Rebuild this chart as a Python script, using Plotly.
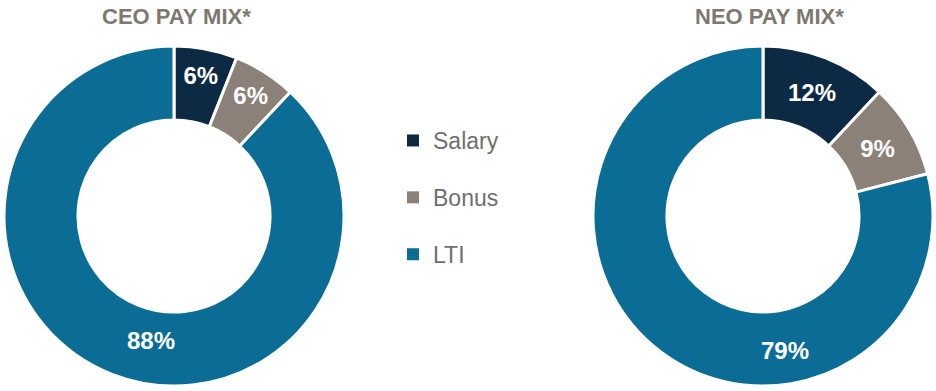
import plotly.graph_objects as go

categories = ["Salary", "Bonus", "LTI"]
ceo_values = [6, 6, 88]
neo_values = [12, 9, 79]
colors = ["#0c2a44", "#8b8178", "#0b6d96"]
titles = ["CEO PAY MIX*", "NEO PAY MIX*"]

FONT = "Liberation Sans Narrow, Arial Narrow, Liberation Sans, Arial, sans-serif"
W, H = 936, 391

fig = go.Figure()

def add_pie(values, domain_x, domain_y):
    texts = [f"<b>{v}%</b>" for v in values[:2]] + [""]
    fig.add_trace(go.Pie(
        labels=categories, values=values, sort=False, direction="clockwise",
        rotation=0, hole=0.565, text=texts, textinfo="text",
        textposition="inside", insidetextorientation="horizontal",
        insidetextfont=dict(family=FONT, size=24, color="white"),
        marker=dict(colors=colors, line=dict(color="white", width=3)),
        domain=dict(x=domain_x, y=domain_y), showlegend=False,
        hoverinfo="label+percent",
    ))

dy = [5 / H, 345 / H]
add_pie(ceo_values, [4 / W, 344 / W], dy)
add_pie(neo_values, [593 / W, 933 / W], dy)

# legend entries
for name, c in zip(categories, colors):
    fig.add_trace(go.Scatter(
        x=[None], y=[None], mode="markers", name=name, legendgroup=name,
        marker=dict(symbol="square", size=11, color=c),
    ))

fig.add_annotation(x=151 / W, y=1 - 340 / H, xref="paper", yref="paper",
                   xanchor="center", yanchor="middle",
                   text=f"<b>{ceo_values[2]}%</b>", showarrow=False,
                   font=dict(family=FONT, size=24, color="white"))
fig.add_annotation(x=785 / W, y=1 - 350 / H, xref="paper", yref="paper",
                   xanchor="center", yanchor="middle",
                   text=f"<b>{neo_values[2]}%</b>", showarrow=False,
                   font=dict(family=FONT, size=24, color="white"))

for t, cx in zip(titles, [176, 769]):
    fig.add_annotation(x=cx / W, y=1 - 17 / H, xref="paper", yref="paper",
                       xanchor="center", yanchor="middle",
                       text=f"<b>{t}</b>", showarrow=False,
                       font=dict(family=FONT, size=22, color="#7d7870"))

fig.update_layout(
    width=W, height=H, margin=dict(l=0, r=0, t=0, b=0),
    paper_bgcolor="white", plot_bgcolor="white",
    xaxis=dict(visible=False), yaxis=dict(visible=False),
    legend=dict(x=393 / W, y=1 - 119 / H, xanchor="left", yanchor="top",
                tracegroupgap=24, itemsizing="constant",
                font=dict(family=FONT, size=23, color="#6f6f6f"),
                bgcolor="rgba(0,0,0,0)"),
    showlegend=True,
)

fig.write_html("out.html", config={"displayModeBar": False},
               post_script="document.body.style.margin='0px';")
